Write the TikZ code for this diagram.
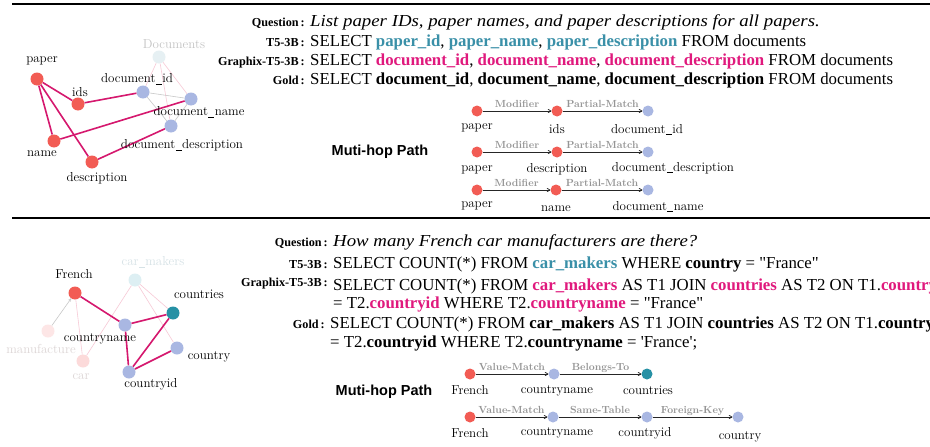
\documentclass[tikz,border=0pt]{standalone}
\usepackage{fontspec}
\newfontfamily\sqlf{Liberation Serif}
\newfontfamily\sqlit{Liberation Serif}[FakeStretch=1.12]
\newfontfamily\sansf{Liberation Sans}
\usetikzlibrary{arrows.meta}
\definecolor{nodered}{HTML}{F25C54}
\definecolor{nodeblue}{HTML}{A9B7E2}
\definecolor{nodeteal}{HTML}{2691A5}
\definecolor{edgemag}{HTML}{D5186E}
\definecolor{tfive}{HTML}{3A90A8}
\definecolor{gxc}{HTML}{E0197D}
\definecolor{fpink}{HTML}{F7C9D6}
\definecolor{fgray}{HTML}{C8C8C8}
\definecolor{ldoc}{HTML}{E6F0F3}
\definecolor{lmak}{HTML}{DDEFF3}
\definecolor{lman}{HTML}{FDE6E6}
\definecolor{lcar}{HTML}{FCDADA}
\definecolor{ftext}{HTML}{C4C4C4}
\definecolor{ftextb}{HTML}{D6E2E6}
\definecolor{ftextp}{HTML}{DDD6D6}
\definecolor{elab}{HTML}{959595}
\newcommand{\lbc}{\,:}
\newcommand{\us}{\kern0.03em\rule[-0.16em]{0.46em}{0.045em}\kern0.03em}
\begin{document}
\begin{tikzpicture}[x=1pt,y=-1pt,
  dot/.style={circle,inner sep=0pt,minimum size=13pt},
  rn/.style={dot,fill=nodered},
  bn/.style={dot,fill=nodeblue},
  pdot/.style={circle,inner sep=0pt,minimum size=11pt},
  prn/.style={pdot,fill=nodered},
  pbn/.style={pdot,fill=nodeblue},
  ptn/.style={pdot,fill=nodeteal},
  lab/.style={inner sep=0pt,font=\fontsize{13}{15}\selectfont},
  mainedge/.style={draw=edgemag,line width=1.6pt},
  pinkedge/.style={draw=fpink,line width=0.6pt},
  grayedge/.style={draw=fgray,line width=0.6pt},
  sql/.style={inner sep=0pt,anchor=base west,font=\sqlf\fontsize{16.8}{19}\selectfont},
  sqli/.style={inner sep=0pt,anchor=base west,font=\sqlit\itshape\fontsize{16.8}{19}\selectfont},
  rowlab/.style={inner sep=0pt,anchor=base east,font=\sqlf\bfseries\fontsize{12.2}{14}\selectfont},
  parrow/.style={draw=black!85,line width=0.7pt,-{To[length=3.5pt,width=4pt]}},
  elabel/.style={inner sep=0pt,anchor=base,text=elab,font=\bfseries\fontsize{10.3}{12}\selectfont},
  mhp/.style={inner sep=0pt,font=\sansf\bfseries\fontsize{14.5}{16}\selectfont}
]
\useasboundingbox (0,0) rectangle (930,447);
\fill[white] (0,0) rectangle (930,447);
% rules
\draw[line width=1.8pt] (12,4) -- (930,4);
\draw[line width=1.3pt] (12,218) -- (930,218);

% ---------------- top graph ----------------
\node[dot,fill=ldoc] (Docs) at (159,57) {};
\node[bn] (did) at (143,92) {};
\node[bn] (dname) at (191,99) {};
\node[bn] (ddesc) at (171,126) {};
\node[rn] (paper) at (37,79) {};
\node[rn] (ids) at (78,104) {};
\node[rn] (name) at (54,141) {};
\node[rn] (desc) at (92,162) {};
\draw[pinkedge] (Docs) -- (did);
\draw[pinkedge] (Docs) -- (dname);
\draw[pinkedge] (Docs) -- (ddesc);
\draw[grayedge] (did) -- (dname);
\draw[grayedge] (did) -- (ddesc);
\draw[grayedge] (dname) -- (ddesc);
\draw[mainedge] (paper) -- (ids);
\draw[mainedge] (paper) -- (name);
\draw[mainedge] (paper) -- (desc);
\draw[mainedge] (ids) -- (did);
\draw[mainedge] (name) -- (dname);
\draw[mainedge] (desc) -- (ddesc);
\node[lab,text=ftext] (DocsL) at (174,44) {Documents};
\node[lab] (paperL) at (42,61) {paper};
\node[lab] (idsL) at (80,92) {ids};
\node[lab] (nameL) at (42,154) {name};
\node[lab] (descL) at (97,178) {description};
\node[lab] (didL) at (137,79) {document\us id};
\node[lab] (dnameL) at (199,112) {document\us name};
\node[lab] (ddescL) at (182,145) {document\us description};

% ---------------- top text ----------------
\node[rowlab] (qa) at (305,26) {Question\lbc};
\node[sqli] (qat) at (310,26) {List paper IDs, paper names, and paper descriptions for all papers.};
\node[rowlab] (ta) at (305,46) {T5-3B\lbc};
\node[sql] (tat) at (310,46) {SELECT \textbf{\color{tfive}paper\_id}, \textbf{\color{tfive}paper\_name}, \textbf{\color{tfive}paper\_description} FROM documents};
\node[rowlab] (ga) at (305,65) {Graphix-T5-3B\lbc};
\node[sql] (gat) at (310,65) {SELECT \textbf{\color{gxc}document\_id}, \textbf{\color{gxc}document\_name}, \textbf{\color{gxc}document\_description} FROM documents};
\node[rowlab] (da) at (305,84) {Gold\lbc};
\node[sql] (dat) at (310,84) {SELECT \textbf{document\_id}, \textbf{document\_name}, \textbf{document\_description} FROM documents};

% ---------------- top paths ----------------
\node[mhp] (mhpA) at (380,152) {Muti-hop Path};
\node[prn] (a1) at (477,111) {};
\node[prn] (a2) at (557,111) {};
\node[pbn] (a3) at (648,111) {};
\draw[parrow] (a1) -- node[elabel,pos=0.5,yshift=4pt] {Modifier} (a2);
\draw[parrow] (a2) -- node[elabel,pos=0.5,yshift=4pt] {Partial-Match} (a3);
\node[lab,anchor=base] (a1L) at (477,129) {paper};
\node[lab,anchor=base] (a2L) at (557,133) {ids};
\node[lab,anchor=base] (a3L) at (647,133) {document\us id};

\node[prn] (b1) at (477,152) {};
\node[prn] (b2) at (557,152) {};
\node[pbn] (b3) at (648,152) {};
\draw[parrow] (b1) -- node[elabel,pos=0.5,yshift=4pt] {Modifier} (b2);
\draw[parrow] (b2) -- node[elabel,pos=0.5,yshift=4pt] {Partial-Match} (b3);
\node[lab,anchor=base] (b1L) at (477,171) {paper};
\node[lab,anchor=base] (b2L) at (557,172) {description};
\node[lab,anchor=base] (b3L) at (673,171) {document\us description};

\node[prn] (c1) at (477,190) {};
\node[prn] (c2) at (556,190) {};
\node[pbn] (c3) at (648,190) {};
\draw[parrow] (c1) -- node[elabel,pos=0.5,yshift=4pt] {Modifier} (c2);
\draw[parrow] (c2) -- node[elabel,pos=0.5,yshift=4pt] {Partial-Match} (c3);
\node[lab,anchor=base] (c1L) at (477,207) {paper};
\node[lab,anchor=base] (c2L) at (556,211) {name};
\node[lab,anchor=base] (c3L) at (658,210) {document\us name};

% ---------------- bottom graph ----------------
\node[dot,fill=lmak] (cm) at (135,280) {};
\node[dot,fill=lman] (man) at (48,331) {};
\node[dot,fill=lcar] (car) at (83,361) {};
\node[rn] (fr) at (75,293) {};
\node[dot,fill=nodeteal] (ctr) at (173,313) {};
\node[bn] (cn) at (125,325) {};
\node[bn] (cty) at (177,348) {};
\node[bn] (cid) at (129,372) {};
\draw[draw=fgray,line width=0.6pt,-{To[length=3pt,width=3pt]}] (man) -- (fr);
\draw[pinkedge] (fr) -- (car);
\draw[pinkedge] (car) -- (cm);
\draw[pinkedge] (cm) -- (ctr);
\draw[pinkedge] (cm) -- (cty);
\draw[mainedge] (fr) -- (cn);
\draw[mainedge] (cn) -- (ctr);
\draw[mainedge] (cn) -- (cid);
\draw[mainedge] (cid) -- (ctr);
\draw[mainedge] (cid) -- (cty);
\node[lab,text=ftextb] (cmL) at (153,262) {car\us makers};
\node[lab] (frL) at (74,274) {French};
\node[lab] (ctrL) at (199,294) {countries};
\node[lab] (cnL) at (100,339) {countryname};
\node[lab,text=ftextp] (manL) at (41,349) {manufacture};
\node[lab,text=ftextp] (carL) at (81,377) {car};
\node[lab] (ctyL) at (209,357) {country};
\node[lab] (cidL) at (151,384) {countryid};

% ---------------- bottom text ----------------
\node[rowlab] (qb) at (328,246) {Question\lbc};
\node[sqli] (qbt) at (333,246) {How many French car manufacturers are there?};
\node[rowlab] (tb) at (328,268) {T5-3B\lbc};
\node[sql] (tbt) at (333,268) {SELECT COUNT(*) FROM \textbf{\color{tfive}car\_makers} WHERE \textbf{country} = "France"};
\node[rowlab] (gb) at (328,286) {Graphix-T5-3B\lbc};
\node[sql] (gbt) at (333,290) {SELECT COUNT(*) FROM \textbf{\color{gxc}car\_makers} AS T1 JOIN \textbf{\color{gxc}countries} AS T2 ON T1.\textbf{\color{gxc}country}};
\node[sql] (gbt2) at (333,308) {= T2.\textbf{\color{gxc}countryid} WHERE T2.\textbf{\color{gxc}countryname} = "France"};
\node[rowlab] (db) at (325,328) {Gold\lbc};
\node[sql] (dbt) at (330,328) {SELECT COUNT(*) FROM \textbf{car\_makers} AS T1 JOIN \textbf{countries} AS T2 ON T1.\textbf{country}};
\node[sql] (dbt2) at (330,347) {= T2.\textbf{countryid} WHERE T2.\textbf{countryname} = 'France';};

% ---------------- bottom paths ----------------
\node[mhp] (mhpB) at (384,392) {Muti-hop Path};
\node[prn] (e1) at (470,374) {};
\node[pbn] (e2) at (554,374) {};
\node[ptn] (e3) at (647,374) {};
\draw[parrow] (e1) -- node[elabel,pos=0.5,yshift=4pt] {Value-Match} (e2);
\draw[parrow] (e2) -- node[elabel,pos=0.5,yshift=4pt] {Belongs-To} (e3);
\node[lab,anchor=base] (e1L) at (470,394) {French};
\node[lab,anchor=base] (e2L) at (557,393) {countryname};
\node[lab,anchor=base] (e3L) at (648,394) {countries};

\node[prn] (f1) at (470,417) {};
\node[pbn] (f2) at (553,417) {};
\node[pbn] (f3) at (647,417) {};
\node[pbn] (f4) at (738,417) {};
\draw[parrow] (f1) -- node[elabel,pos=0.5,yshift=4pt] {Value-Match} (f2);
\draw[parrow] (f2) -- node[elabel,pos=0.5,yshift=4pt] {Same-Table} (f3);
\draw[parrow] (f3) -- node[elabel,pos=0.5,yshift=4pt] {Foreign-Key} (f4);
\node[lab,anchor=base] (f1L) at (470,437) {French};
\node[lab,anchor=base] (f2L) at (557,435) {countryname};
\node[lab,anchor=base] (f3L) at (645,436) {countryid};
\node[lab,anchor=base] (f4L) at (740,439) {country};
\end{tikzpicture}
\end{document}
